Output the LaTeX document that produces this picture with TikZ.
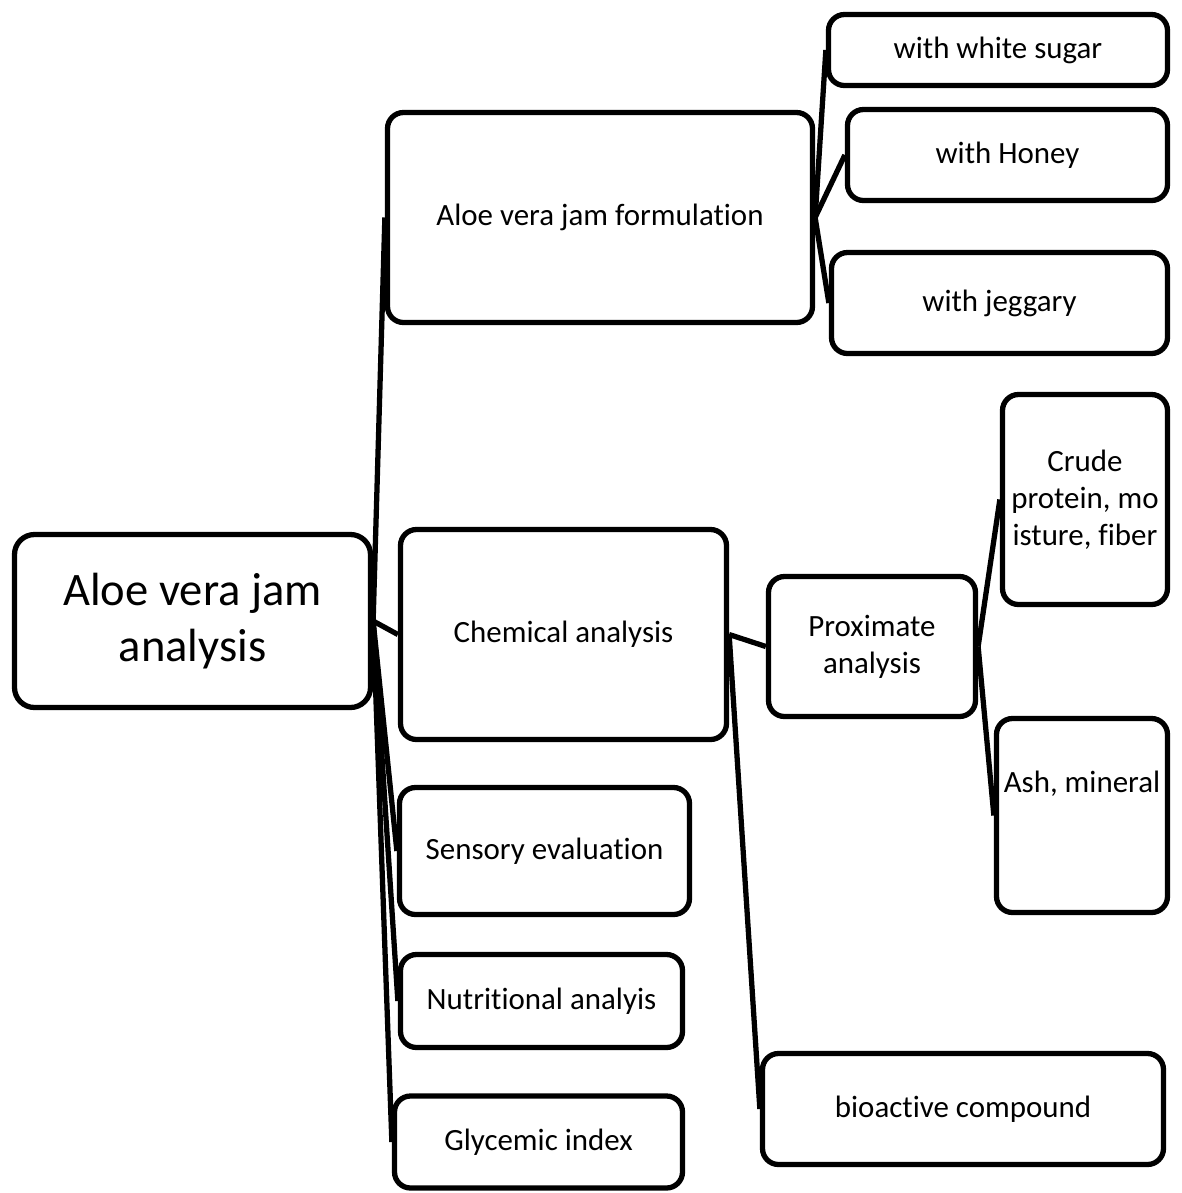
\documentclass[tikz,border=0pt]{standalone}
\usepackage{fontspec}
\setmainfont{Carlito}[Ligatures=NoCommon]
\usepackage{tikz}
\usetikzlibrary{positioning, backgrounds}
\usepackage{xcolor}
\definecolor{boxcolor}{RGB}{255,255,255}
\definecolor{bordercolor}{RGB}{0,0,0}
\definecolor{linkcolor}{RGB}{0,0,0}

\begin{document}
\begin{tikzpicture}[
  % Node styles
  itembox/.style={
    rectangle,
    rounded corners=0.32cm,
    draw=bordercolor,
    line width=3pt,
    fill=boxcolor,
    align=center,
    inner sep=2pt,
    font=\fontsize{17.6}{21}\selectfont
  },
  rootbox/.style={
    itembox,
    rounded corners=0.4cm,
    font=\fontsize{26.5}{31.5}\selectfont
  },
  link/.style={
    line width=3pt,
    draw=linkcolor
  }
]
\useasboundingbox (0,0) rectangle (23.64,-23.86);

% ===== ROOT =====
\node[rootbox, minimum width=7.12cm, minimum height=3.46cm] (root) at (3.85,-12.42) {Aloe vera jam\\analysis};

% ===== FIRST LEVEL =====
\node[itembox, minimum width=8.5cm, minimum height=4.2cm] (form) at (12.0,-4.35) {Aloe vera jam formulation};
\node[itembox, minimum width=6.52cm, minimum height=4.2cm] (chem) at (11.27,-12.69) {Chemical analysis};
\node[itembox, minimum width=5.8cm, minimum height=2.54cm] (sens) at (10.89,-17.02) {Sensory evaluation};
\node[itembox, minimum width=5.64cm, minimum height=1.86cm] (nutr) at (10.83,-20.02) {Nutritional analyis};
\node[itembox, minimum width=5.76cm, minimum height=1.84cm] (glyc) at (10.77,-22.84) {Glycemic index};

% ===== FORMULATION =====
\node[itembox, minimum width=6.78cm, minimum height=1.42cm] (sugar) at (19.96,-1.0) {with white sugar};
\node[itembox, minimum width=6.4cm, minimum height=1.82cm] (honey) at (20.15,-3.1) {with Honey};
\node[itembox, minimum width=6.72cm, minimum height=2.02cm] (jegg) at (19.99,-6.06) {with jeggary};

% ===== CHEMICAL =====
\node[itembox, minimum width=4.14cm, minimum height=2.8cm] (prox) at (17.44,-12.93) {Proximate\\analysis};
\node[itembox, minimum width=8.02cm, minimum height=2.22cm] (bio) at (19.26,-22.18) {bioactive compound};

\node[itembox, minimum width=3.3cm, minimum height=4.2cm] (crude) at (21.7,-9.99) {Crude\\protein, mo\\isture, fiber};
\node[itembox, minimum width=3.42cm, minimum height=3.88cm] (ash) at (21.64,-16.31) {Ash, mineral\\[0.6cm]};

% ===== LINKS =====
\begin{scope}[on background layer]
\draw[link] (root.east) -- (form.west);
\draw[link] (root.east) -- (chem.west);
\draw[link] (root.east) -- (sens.west);
\draw[link] (root.east) -- (nutr.west);
\draw[link] (root.east) -- (glyc.west);

\draw[link] (form.east) -- (sugar.west);
\draw[link] (form.east) -- (honey.west);
\draw[link] (form.east) -- (jegg.west);

\draw[link] (chem.east) -- (prox.west);
\draw[link] (chem.east) -- (bio.west);

\draw[link] (prox.east) -- (crude.west);
\draw[link] (prox.east) -- (ash.west);
\end{scope}

\end{tikzpicture}
\end{document}
